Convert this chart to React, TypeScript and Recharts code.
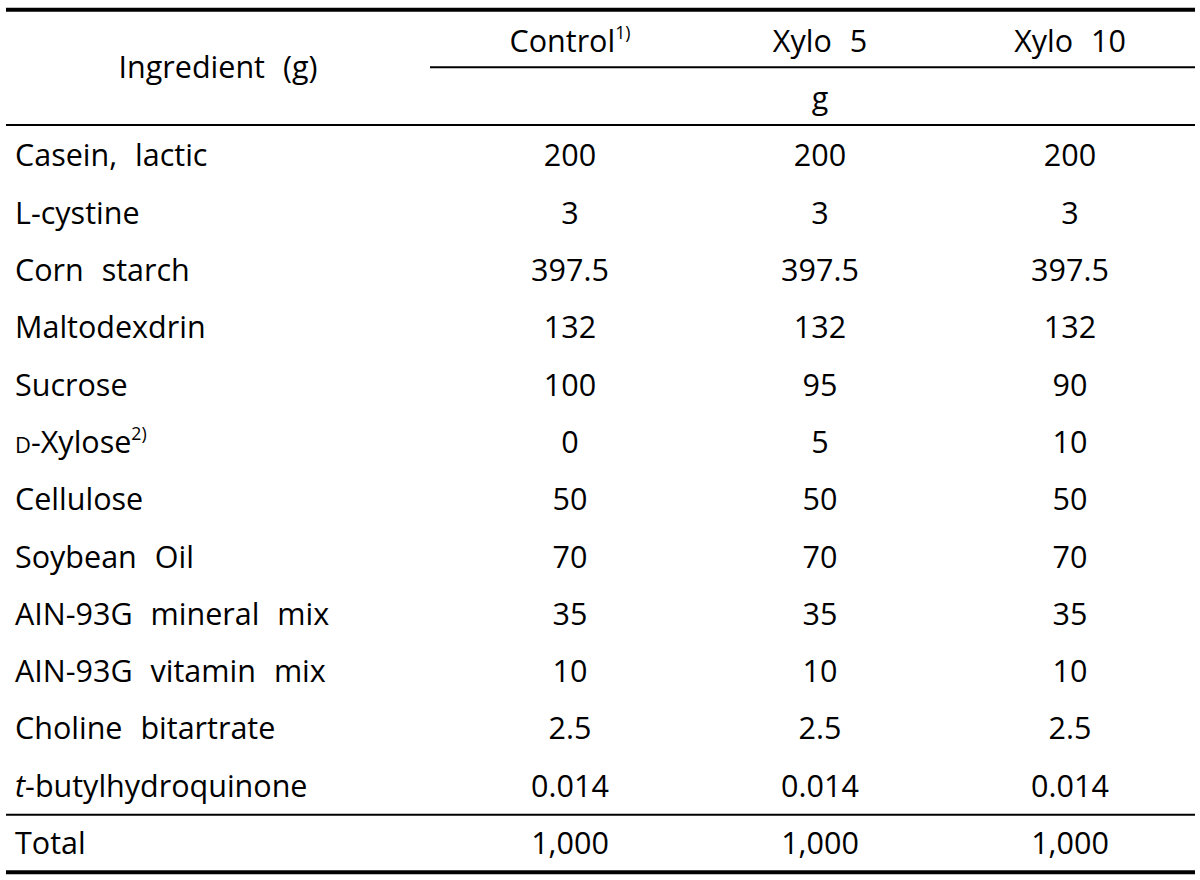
import React from 'react';
import { ScatterChart, Scatter, XAxis, YAxis, ReferenceLine } from 'recharts';

// table content
const ingredients = [
  'Casein, lactic',
  'L-cystine',
  'Corn starch',
  'Maltodexdrin',
  'Sucrose',
  'D-Xylose',
  'Cellulose',
  'Soybean Oil',
  'AIN-93G mineral mix',
  'AIN-93G vitamin mix',
  'Choline bitartrate',
  't-butylhydroquinone',
  'Total',
];
const groups = ['Control', 'Xylo 5', 'Xylo 10'];
const controlValues = ['200', '3', '397.5', '132', '100', '0', '50', '70', '35', '10', '2.5', '0.014', '1,000'];
const xylo5Values = ['200', '3', '397.5', '132', '95', '5', '50', '70', '35', '10', '2.5', '0.014', '1,000'];
const xylo10Values = ['200', '3', '397.5', '132', '90', '10', '50', '70', '35', '10', '2.5', '0.014', '1,000'];
const stubHeader = 'Ingredient (g)';
const unitLabel = 'g';
const footnotes: Record<string, string> = { Control: '1)', 'D-Xylose': '2)' };

const FONT = '"Open Sans", "Noto Sans", sans-serif';
const FS = 30.5;

// axis domains in column / row units
const X_DOMAIN: [number, number] = [-2.256, 2.5];
const Y_DOMAIN: [number, number] = [-2.6, 12.55];
const STUB_RIGHT = -0.56;

const valueCols = [controlValues, xylo5Values, xylo10Values];
const bodyCells = valueCols.flatMap((vals, c) => vals.map((v, r) => ({ x: c, y: r, text: v })));
const headerCells = [
  ...groups.map((g, c) => ({ x: c, y: -2, text: g })),
  { x: 1, y: -1, text: unitLabel },
  { x: (X_DOMAIN[0] + STUB_RIGHT) / 2, y: -1.55, text: stubHeader },
];

const RichText = ({ x, y, text, anchor }: { x: number; y: number; text: string; anchor: 'start' | 'middle' }) => {
  const note = footnotes[text];
  let body: React.ReactNode = text;
  if (text.startsWith('D-')) {
    body = (
      <>
        <tspan fontSize={FS * 0.72}>D</tspan>
        {text.slice(1)}
      </>
    );
  } else if (text.startsWith('t-')) {
    body = (
      <>
        <tspan fontStyle="italic">t</tspan>
        {text.slice(1)}
      </>
    );
  }
  return (
    <text
      x={x}
      y={y + 10.5}
      textAnchor={anchor}
      fontFamily={FONT}
      fontSize={FS}
      fontWeight={500}
      fill="#000"
      style={{ wordSpacing: '10px' }}
    >
      {body}
      {note && (
        <tspan fontSize={FS * 0.58} dy={-13}>
          {note}
        </tspan>
      )}
    </text>
  );
};

const cellShape = (props: any) => (
  <RichText x={props.cx} y={props.cy} text={props.payload.text} anchor="middle" />
);

const IngredientTick = (props: any) => (
  <RichText x={props.x} y={props.y} text={ingredients[props.payload.value]} anchor="start" />
);

export default function App() {
  return (
    <div style={{ position: 'absolute', left: 0, top: 0, width: 1200, height: 880, background: '#fff' }}>
      <ScatterChart width={1200} height={880} margin={{ top: 7, right: 5, bottom: 5, left: 6 }}>
        <XAxis type="number" dataKey="x" domain={X_DOMAIN} allowDataOverflow hide />
        <YAxis
          type="number"
          dataKey="y"
          domain={Y_DOMAIN}
          allowDataOverflow
          reversed
          mirror
          ticks={ingredients.map((_, i) => i)}
          interval={0}
          axisLine={false}
          tickLine={false}
          tickSize={0}
          tickMargin={9}
          tick={<IngredientTick />}
        />
        <ReferenceLine y={-2.55} stroke="#000" strokeWidth={4} />
        <ReferenceLine
          segment={[{ x: STUB_RIGHT, y: -1.55 }, { x: X_DOMAIN[1], y: -1.55 }]}
          stroke="#000"
          strokeWidth={2}
        />
        <ReferenceLine y={-0.54} stroke="#000" strokeWidth={2} />
        <ReferenceLine y={11.5} stroke="#000" strokeWidth={2} />
        <ReferenceLine y={12.5} stroke="#000" strokeWidth={4} />
        <Scatter data={headerCells} shape={cellShape} isAnimationActive={false} />
        <Scatter data={bodyCells} shape={cellShape} isAnimationActive={false} />
      </ScatterChart>
    </div>
  );
}
